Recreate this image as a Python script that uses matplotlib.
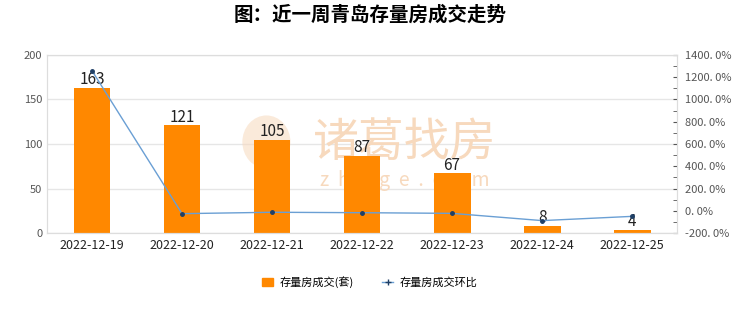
import matplotlib
matplotlib.use("Agg")
import matplotlib.pyplot as plt
from matplotlib.ticker import MultipleLocator, FuncFormatter
from matplotlib.lines import Line2D
from matplotlib.patches import Patch, Ellipse

plt.rcParams['font.family'] = ['Noto Sans CJK SC', 'DejaVu Sans']

dates = ["2022-12-19", "2022-12-20", "2022-12-21", "2022-12-22", "2022-12-23", "2022-12-24", "2022-12-25"]
deals = [163, 121, 105, 87, 67, 8, 4]
mom_pct = [1258.3, -25.8, -13.2, -17.1, -23.0, -88.1, -50.0]

fig = plt.figure(figsize=(7.4, 3.12), dpi=100)
ax = fig.add_axes([0.0635, 0.253, 0.8515, 0.571])
x = list(range(len(dates)))

ax.set_ylim(0, 200)
ax.set_xlim(-0.5, len(dates) - 0.5)
ax.yaxis.set_major_locator(MultipleLocator(50))
ax.grid(axis='y', color='#e6e6e6', linewidth=1)
ax.set_axisbelow(True)

# watermark (behind bars)
wm = '#f7d9bd'
ax.text(0.547, 0.542, '诸葛找房', transform=fig.transFigure, fontsize=33, color=wm,
        ha='center', va='center', zorder=1)
ax.text(0.547, 0.42, 'z  h  u  g  e  .  c  o  m', transform=fig.transFigure, fontsize=14, color=wm,
        ha='center', va='center', zorder=1)
ax.add_patch(Ellipse((0.36, 0.545), 0.065, 0.17, transform=fig.transFigure, facecolor=wm,
                     edgecolor='none', alpha=0.55, zorder=1))

ax.bar(x, deals, width=0.41, color='#FF8800', zorder=2, label='存量房成交(套)')
for xi, v in zip(x, deals):
    ax.text(xi, v - 0.5, str(v), ha='center', va='bottom', fontsize=11, color='#222222', zorder=5)
ax.set_xticks(x)
ax.set_xticklabels(dates, fontsize=9, color='#222222')
ax.tick_params(axis='y', labelsize=8, colors='#555555', length=0)
ax.tick_params(axis='x', length=0, pad=4)
for s in ax.spines.values():
    s.set_color('#dddddd')

ax2 = ax.twinx()
ax2.set_ylim(-200, 1400)
ax2.yaxis.set_major_locator(MultipleLocator(200))
ax2.yaxis.set_minor_locator(MultipleLocator(100))
ax2.yaxis.set_major_formatter(FuncFormatter(lambda v, p: f"{v:.1f}%".replace('.', '. ')))
ax2.tick_params(axis='y', which='major', labelsize=8, colors='#555555', length=3, direction='in', pad=6)
ax2.tick_params(axis='y', which='minor', length=3, direction='in', colors='#555555')
for s in ax2.spines.values():
    s.set_color('#dddddd')
ax2.plot(x, mom_pct, color='#6a9fd4', linewidth=1, marker='o', markersize=2.5,
         markerfacecolor='#1f3f66', markeredgecolor='#1f3f66', zorder=4, label='存量房成交环比')

fig.suptitle('图：近一周青岛存量房成交走势', fontsize=14, fontweight='bold', y=0.985, x=0.5)

handles = [Patch(color='#FF8800'),
           Line2D([], [], color='#6a9fd4', marker='+', markersize=5, markeredgecolor='#1f3f66', linewidth=1)]
fig.legend(handles, ['存量房成交(套)', '存量房成交环比'], loc='center', bbox_to_anchor=(0.5, 0.095),
           ncol=2, frameon=False, fontsize=8, handlelength=1.0, handleheight=0.7, columnspacing=2.5,
           handletextpad=0.6)

fig.savefig('out.png', dpi=100, facecolor='white')
